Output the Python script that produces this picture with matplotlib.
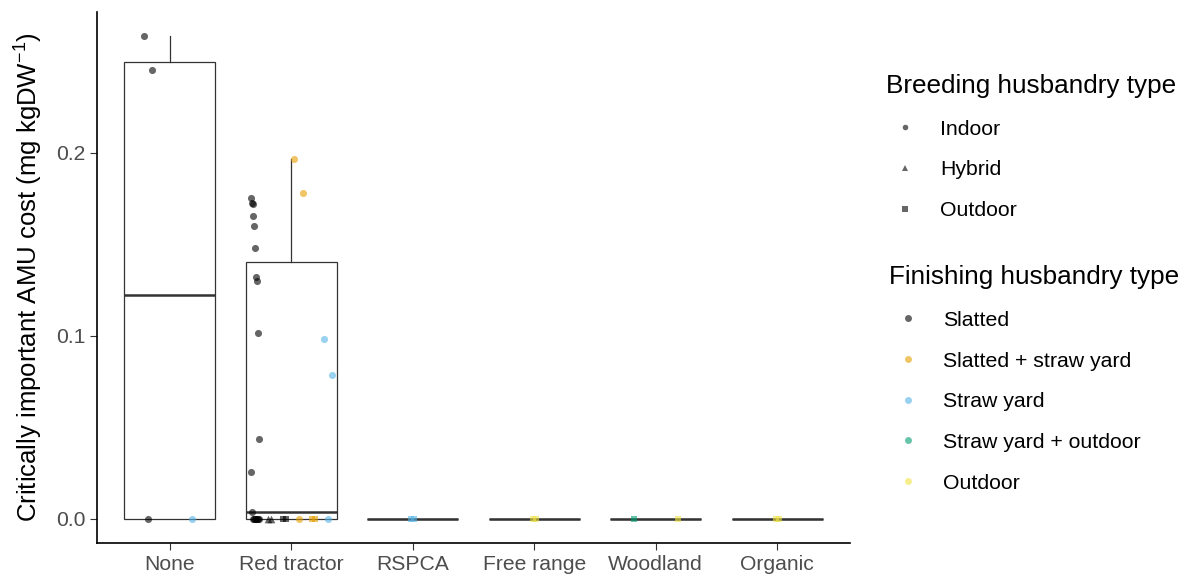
import numpy as np
import matplotlib.pyplot as plt
from matplotlib.lines import Line2D

plt.rcParams['font.family'] = ['Liberation Sans', 'DejaVu Sans']
plt.rcParams['mathtext.fontset'] = 'custom'
plt.rcParams['mathtext.rm'] = 'Liberation Sans'
plt.rcParams['mathtext.it'] = 'Liberation Sans'

categories = ["None", "Red tractor", "RSPCA", "Free range", "Woodland", "Organic"]
breeding_types = ["Indoor", "Hybrid", "Outdoor"]
finishing_types = ["Slatted", "Slatted + straw yard", "Straw yard",
                   "Straw yard + outdoor", "Outdoor"]

# one entry per farm
farm_category = (["None"] * 4
                 + ["Red tractor"] * 31
                 + ["RSPCA"] * 2
                 + ["Free range"] * 2
                 + ["Woodland"] * 2
                 + ["Organic"] * 2)
farm_breeding = (["Indoor"] * 4
                 + ["Indoor"] * 19 + ["Hybrid"] * 2 + ["Outdoor"] * 2
                 + ["Indoor"] * 3 + ["Outdoor"] * 2 + ["Indoor"] * 3
                 + ["Outdoor"] * 2
                 + ["Outdoor"] * 2
                 + ["Outdoor"] * 2
                 + ["Outdoor"] * 2)
farm_finishing = (["Slatted"] * 3 + ["Straw yard"]
                  + ["Slatted"] * 23
                  + ["Slatted + straw yard"] * 5
                  + ["Straw yard"] * 3
                  + ["Straw yard"] * 2
                  + ["Outdoor"] * 2
                  + ["Straw yard + outdoor", "Outdoor"]
                  + ["Outdoor"] * 2)
farm_cost = ([0.2636, 0.2449, 0.0, 0.0]
             + [0.1752, 0.1724, 0.1717, 0.1655, 0.1598, 0.1481, 0.1321, 0.1300,
                0.1015, 0.0437, 0.0254, 0.0036, 0, 0, 0, 0, 0, 0, 0]
             + [0.0, 0.0] + [0.0, 0.0]
             + [0.1967, 0.1779, 0.0] + [0.0, 0.0]
             + [0.0981, 0.0784, 0.0]
             + [0.0, 0.0]
             + [0.0, 0.0]
             + [0.0, 0.0]
             + [0.0, 0.0])

finishing_colors = ["#000000", "#E69F00", "#56B4E9", "#009E73", "#F0E442"]
breeding_markers = ["o", "^", "s"]
marker_sizes = {"o": 26, "^": 30, "s": 22}

cat = np.array(farm_category)
brd = np.array(farm_breeding)
fin = np.array(farm_finishing)
cost = np.array(farm_cost, dtype=float)

fig = plt.figure(figsize=(11.89, 5.79), dpi=100)
ax = fig.add_axes([0.0816, 0.0622, 0.6333, 0.9171])

# boxplots
box_data = [cost[cat == c] for c in categories]
positions = np.arange(1, len(categories) + 1)
ax.boxplot(box_data, positions=positions, widths=0.75, whis=1.5,
           showfliers=False, showcaps=False, patch_artist=True,
           boxprops=dict(facecolor="white", edgecolor="#333333", linewidth=0.9),
           whiskerprops=dict(color="#333333", linewidth=0.9),
           medianprops=dict(color="#333333", linewidth=1.8),
           zorder=1)

# dodged + jittered points
dodge_width = 0.72
for ci, c in enumerate(categories):
    groups = []
    for fi, f in enumerate(finishing_types):
        for bi, b in enumerate(breeding_types):
            m = (cat == c) & (fin == f) & (brd == b)
            if m.any():
                groups.append((fi, bi, m))
    n = len(groups)
    for gi, (fi, bi, m) in enumerate(groups):
        offset = (gi + 0.5) / n * dodge_width - dodge_width / 2
        k = m.sum()
        half = 0.0 if k == 1 else (0.012 if k == 2 else 0.035)
        # alternate jitter so equal values spread around the group centre
        jit = np.linspace(-half, half, k)[np.argsort(np.arange(k) % 2, kind="stable")]
        xs = positions[ci] + offset + jit
        mk = breeding_markers[bi]
        ax.scatter(xs, cost[m], marker=mk, s=marker_sizes[mk],
                   color=finishing_colors[fi], alpha=0.6, linewidths=0,
                   zorder=3)

ymax = cost.max()
pad = ymax * 0.05
ax.set_ylim(-pad, ymax + pad)
ax.set_xlim(0.4, len(categories) + 0.6)
ax.set_xticks(positions)
ax.set_xticklabels(categories)
ax.set_yticks([0.0, 0.1, 0.2])
ax.set_yticklabels(["0.0", "0.1", "0.2"])
ax.tick_params(axis="both", labelsize=15.2, labelcolor="#4D4D4D",
               color="#333333", length=5, width=0.8)
ax.set_ylabel("Critically important AMU cost (mg kgDW$^{-1}$)",
              fontsize=18.5, labelpad=8)
for s in ["top", "right"]:
    ax.spines[s].set_visible(False)
for s in ["left", "bottom"]:
    ax.spines[s].set_linewidth(1.2)

# legends
breed_handles = [Line2D([], [], linestyle="none", marker=mk, color="#000000",
                        alpha=0.6, markersize=4, markeredgewidth=0)
                 for mk in breeding_markers]
fin_handles = [Line2D([], [], linestyle="none", marker="o", color=col,
                      alpha=0.6, markersize=5, markeredgewidth=0)
               for col in finishing_colors]

legend_kw = dict(frameon=False, fontsize=15.3, title_fontsize=18.8,
                 alignment="left", handlelength=1.8, handletextpad=0.75,
                 labelspacing=1.02, borderpad=0, borderaxespad=0)
leg1 = fig.legend(breed_handles, breeding_types, title="Breeding husbandry type",
                  loc="upper left", bbox_to_anchor=(0.745, 0.872), **legend_kw)
leg2 = fig.legend(fin_handles, finishing_types, title="Finishing husbandry type",
                  loc="upper left", bbox_to_anchor=(0.7475, 0.542), **legend_kw)

fig.savefig("out.png", dpi=100)
